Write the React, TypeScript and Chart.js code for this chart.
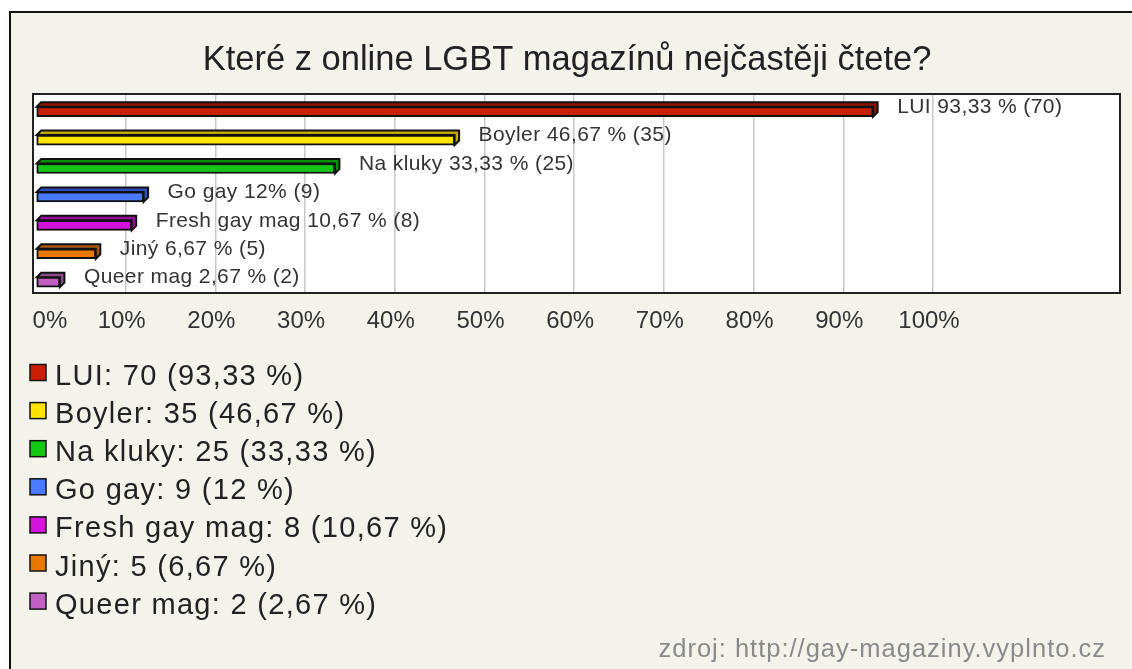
import React, { useEffect, useRef } from 'react';
import { Chart, registerables } from 'chart.js';

Chart.register(...registerables);

const FONT = '"Liberation Sans", Arial, sans-serif';

const chartTitle = 'Které z online LGBT magazínů nejčastěji čtete?';
const sourceText = 'zdroj: http://gay-magaziny.vyplnto.cz';

const categories = ['LUI', 'Boyler', 'Na kluky', 'Go gay', 'Fresh gay mag', 'Jiný', 'Queer mag'];
const counts = [70, 35, 25, 9, 8, 5, 2];
const percents = [93.33, 46.67, 33.33, 12, 10.67, 6.67, 2.67];
const percentLabels = ['93,33', '46,67', '33,33', '12', '10,67', '6,67', '2,67'];
const tickValues = [0, 10, 20, 30, 40, 50, 60, 70, 80, 90, 100];

const frontColors = ['#c82000', '#ffe400', '#12c812', '#4a7aff', '#d414dc', '#e87800', '#c060c0'];
const sideColors = ['#8e1400', '#bfa800', '#0a900a', '#2c4cc0', '#98109e', '#aa5800', '#8e4a8e'];

const decorPlugin = {
  id: 'decor',
  beforeDraw(chart: any) {
    const { ctx, width, height, chartArea: a } = chart;
    ctx.save();
    ctx.fillStyle = '#ffffff';
    ctx.fillRect(0, 0, width, height);
    ctx.fillStyle = '#f4f3eb';
    ctx.fillRect(10, 12, width - 10, height - 12);
    ctx.strokeStyle = '#111';
    ctx.lineWidth = 2;
    ctx.beginPath();
    ctx.moveTo(10, height);
    ctx.lineTo(10, 12);
    ctx.lineTo(width, 12);
    ctx.stroke();
    ctx.fillStyle = '#ffffff';
    ctx.fillRect(a.left, a.top, a.right - a.left, a.bottom - a.top);
    // title
    ctx.fillStyle = '#222';
    ctx.font = `34.5px ${FONT}`;
    ctx.textAlign = 'center';
    ctx.textBaseline = 'alphabetic';
    ctx.fillText(chartTitle, 567, 70);
    ctx.restore();
  },
  beforeDatasetsDraw(chart: any) {
    const ctx = chart.ctx;
    const meta = chart.getDatasetMeta(0);
    ctx.save();
    meta.data.forEach((el: any, i: number) => {
      const { x, y, base, height } = el.getProps(['x', 'y', 'base', 'height'], true);
      const top = y - height / 2;
      const bottom = y + height / 2;
      const d = 4.5;
      ctx.fillStyle = sideColors[i];
      ctx.strokeStyle = '#111';
      ctx.lineWidth = 2;
      ctx.beginPath();
      ctx.moveTo(base, top);
      ctx.lineTo(base + d, top - d);
      ctx.lineTo(x + d, top - d);
      ctx.lineTo(x + d, bottom - d);
      ctx.lineTo(x, bottom);
      ctx.lineTo(x, top);
      ctx.closePath();
      ctx.fill();
      ctx.stroke();
    });
    ctx.restore();
  },
  afterDatasetsDraw(chart: any) {
    const ctx = chart.ctx;
    const meta = chart.getDatasetMeta(0);
    ctx.save();
    ctx.font = `21px ${FONT}`;
    (ctx as any).letterSpacing = '0.4px';
    ctx.fillStyle = '#333';
    ctx.textAlign = 'left';
    ctx.textBaseline = 'middle';
    meta.data.forEach((el: any, i: number) => {
      const { x, y } = el.getProps(['x', 'y'], true);
      const p = percentLabels[i];
      const pct = p.includes(',') ? `${p} %` : `${p}%`;
      ctx.fillText(`${categories[i]} ${pct} (${counts[i]})`, x + 24, y - 4.5);
    });
    ctx.restore();
  },
  afterDraw(chart: any) {
    const { ctx, chartArea: a } = chart;
    ctx.save();
    // plot frame
    ctx.strokeStyle = '#222';
    ctx.lineWidth = 2;
    ctx.strokeRect(a.left, a.top, a.right - a.left, a.bottom - a.top);
    // legend
    ctx.font = `29px ${FONT}`;
    (ctx as any).letterSpacing = '1.3px';
    ctx.textAlign = 'left';
    ctx.textBaseline = 'alphabetic';
    categories.forEach((c, i) => {
      const cy = 372.5 + i * 38.1;
      ctx.fillStyle = frontColors[i];
      ctx.fillRect(30, cy - 8, 16, 16);
      ctx.strokeStyle = '#111';
      ctx.lineWidth = 1.5;
      ctx.strokeRect(30, cy - 8, 16, 16);
      ctx.fillStyle = '#222';
      ctx.fillText(`${c}: ${counts[i]} (${percentLabels[i]} %)`, 55, cy + 12.5);
    });
    // source
    ctx.font = `25.5px ${FONT}`;
    (ctx as any).letterSpacing = '1px';
    ctx.fillStyle = '#8a8a8a';
    ctx.textAlign = 'right';
    ctx.fillText(sourceText, 1106, 657);
    ctx.restore();
  },
};

export default function App() {
  const ref = useRef<HTMLCanvasElement | null>(null);
  useEffect(() => {
    document.body.style.margin = '0';
    if (!ref.current) return;
    const chart = new Chart(ref.current, {
      type: 'bar',
      data: {
        labels: categories,
        datasets: [
          {
            data: percents,
            backgroundColor: frontColors,
            borderColor: '#111',
            borderWidth: 2,
            borderSkipped: false,
            barThickness: 10,
          },
        ],
      },
      options: {
        responsive: false,
        animation: false,
        indexAxis: 'y',
        layout: { padding: { left: 33, top: 94, right: 12, bottom: 0 } },
        plugins: {
          legend: { display: false },
          title: { display: false },
          tooltip: { enabled: false },
        },
        scales: {
          x: {
            type: 'linear',
            min: -0.33,
            max: 120.85,
            afterBuildTicks: (s: any) => {
              s.ticks = tickValues.map((v) => ({ value: v }));
            },
            afterFit: (s: any) => {
              s.height = 376;
              s.paddingLeft = 0;
              s.paddingRight = 0;
            },
            grid: {
              drawTicks: false,
              color: (c: any) => (c.tick && c.tick.value === 0 ? 'rgba(0,0,0,0)' : '#c8c8c8'),
              lineWidth: 1.5,
            },
            border: { display: false },
            ticks: {
              padding: 14,
              labelOffset: -4,
              autoSkip: false,
              maxRotation: 0,
              color: '#333',
              font: { family: FONT, size: 24 },
              callback: (v: any) => (v === 0 ? '\u2002\u2002\u20020%' : `${v}%`),
            },
          },
          y: {
            type: 'category',
            display: false,
            afterDataLimits: (s: any) => {
              s.min = -0.12;
              s.max = s.max + 0.88;
            },
          },
        },
      },
      plugins: [decorPlugin],
    } as any);
    return () => chart.destroy();
  }, []);
  return (
    <div style={{ position: 'fixed', left: 0, top: 0 }}>
      <canvas ref={ref} width={1132} height={669} style={{ display: 'block' }} />
    </div>
  );
}
